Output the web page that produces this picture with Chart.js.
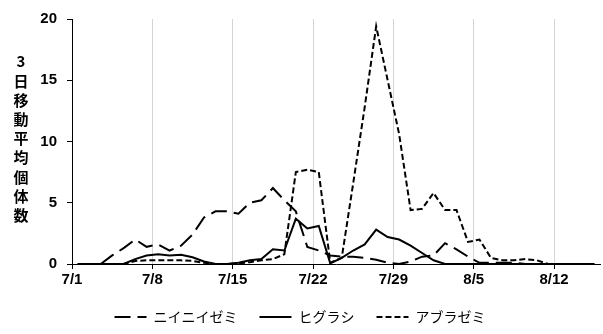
<!DOCTYPE html>
<html>
<head>
<meta charset="utf-8">
<script src="https://cdn.jsdelivr.net/npm/chart.js@4.4.1/dist/chart.umd.min.js"></script>
<style>
  html, body { margin: 0; padding: 0; background: #fff; }
  #wrap { width: 603px; height: 334px; }
</style>
</head>
<body>
<div id="wrap"><canvas id="cicada" width="603" height="334"></canvas></div>
<script>
// days from 7/1 to 8/15, one value per day (3-day moving average)
const dayCount = 46;
const tickDays = [0, 7, 14, 21, 28, 35, 42];
const tickLabels = ['7/1', '7/8', '7/15', '7/22', '7/29', '8/5', '8/12'];
const seriesNames = ['ニイニイゼミ', 'ヒグラシ', 'アブラゼミ'];
const yTitle = '3日移動平均個体数';

const niinii = [
  0, 0, 0, 0.7, 1.3, 2.0, 1.4, 1.6, 1.1, 1.5,
  2.4, 3.8, 4.3, 4.3, 4.1, 5.0, 5.2, 6.2, 5.2, 4.3,
  1.4, 1.1, 0.7, 0.6, 0.6, 0.5, 0.35, 0.1, 0, 0.2,
  0.6, 0.7, 1.7, 1.2, 0.6, 0.1, 0.1, 0.1, 0.1, 0,
  0, 0, 0, 0, 0, 0
];
const higurashi = [
  0, 0, 0, 0, 0, 0.4, 0.7, 0.8, 0.7, 0.75,
  0.55, 0.2, 0, 0, 0.1, 0.3, 0.4, 1.2, 1.1, 3.7,
  2.9, 3.1, 0.05, 0.5, 1.1, 1.6, 2.8, 2.2, 2.0, 1.5,
  0.9, 0.3, 0, 0, 0, 0, 0, 0, 0, 0,
  0, 0, 0, 0, 0, 0
];
const aburazemi = [
  0, 0, 0, 0, 0, 0.25, 0.3, 0.3, 0.3, 0.3,
  0.25, 0.1, 0, 0, 0.05, 0.15, 0.3, 0.4, 0.8, 7.5,
  7.7, 7.5, 0.1, 0.5, 6.6, 12.8, 19.4, 15.0, 10.6, 4.4,
  4.5, 5.8, 4.4, 4.4, 1.8, 2.0, 0.5, 0.3, 0.3, 0.4,
  0.3, 0, 0, 0, 0, 0
];

// each day's point sits in the middle of its day slot
const toPoints = vals => vals.map((v, i) => ({ x: i + 0.5, y: v }));

const numFont = { family: '"Liberation Sans", Arial, sans-serif', size: 15, weight: 'bold' };
const jpFont = '"Noto Sans CJK JP", sans-serif';

const stackedTitle = {
  id: 'stackedTitle',
  afterDraw(chart) {
    const { ctx, chartArea } = chart;
    const chars = [...yTitle];
    const step = 19.2;
    const mid = (chartArea.top + chartArea.bottom) / 2 - 3;
    const start = mid - step * (chars.length - 1) / 2;
    ctx.save();
    ctx.font = 'bold 15px ' + jpFont;
    ctx.fillStyle = '#000';
    ctx.textAlign = 'center';
    ctx.textBaseline = 'middle';
    chars.forEach((ch, i) => ctx.fillText(ch, 21, start + i * step));
    ctx.restore();
  }
};

const lineStyle = {
  borderColor: '#000',
  backgroundColor: '#000',
  borderWidth: 2,
  pointRadius: 0,
  tension: 0,
  fill: false,
  borderCapStyle: 'butt'
};

new Chart(document.getElementById('cicada'), {
  type: 'line',
  data: {
    datasets: [
      { ...lineStyle, label: seriesNames[0], data: toPoints(niinii), borderDash: [16, 7] },
      { ...lineStyle, label: seriesNames[1], data: toPoints(higurashi) },
      { ...lineStyle, label: seriesNames[2], data: toPoints(aburazemi), borderDash: [6, 3] }
    ]
  },
  options: {
    responsive: false,
    animation: false,
    layout: { padding: { left: 0, right: 3, top: 19, bottom: 0 } },
    plugins: {
      tooltip: { enabled: false },
      legend: {
        position: 'bottom',
        labels: {
          usePointStyle: true,
          pointStyle: 'line',
          pointStyleWidth: 32,
          padding: 22,
          color: '#000',
          font: { family: jpFont, size: 14 },
          // point style legend ignores the dash, so copy it from the dataset
          generateLabels: chart => Chart.defaults.plugins.legend.labels.generateLabels(chart)
            .map(item => ({ ...item, lineDash: chart.data.datasets[item.datasetIndex].borderDash || [] }))
        }
      }
    },
    scales: {
      x: {
        type: 'linear',
        min: 0,
        max: dayCount,
        afterBuildTicks: s => { s.ticks = tickDays.map(v => ({ value: v })); },
        afterFit: s => { s.height = 24; },
        border: { color: '#000', width: 1 },
        grid: { color: '#d4d4d4', tickColor: '#000', tickLength: 5, lineWidth: 1 },
        ticks: {
          color: '#000',
          font: numFont,
          padding: 2,
          maxRotation: 0,
          callback: (v) => tickLabels[tickDays.indexOf(v)]
        }
      },
      y: {
        min: 0,
        max: 20,
        afterFit: s => { s.width = 72; },
        border: { color: '#000', width: 1 },
        grid: { drawOnChartArea: false, tickColor: '#000', tickLength: 5 },
        ticks: { stepSize: 5, color: '#000', font: numFont, padding: 10 }
      }
    }
  },
  plugins: [stackedTitle]
});
</script>
</body>
</html>
